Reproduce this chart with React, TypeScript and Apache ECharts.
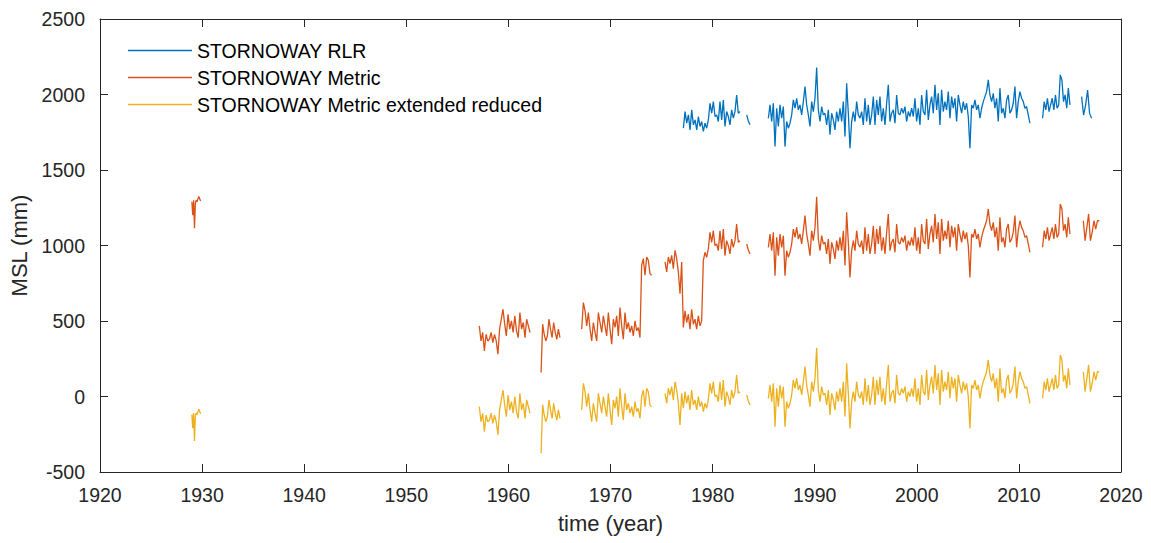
import React, { useEffect, useRef } from "react";
import * as echarts from "echarts";

// ---------- axis settings ----------
const X_MIN = 1920;
const X_MAX = 2020;
const X_STEP = 10;
const Y_MIN = -500;
const Y_MAX = 2500;
const Y_STEP = 500;

const SERIES_NAMES = [
  "STORNOWAY RLR",
  "STORNOWAY Metric",
  "STORNOWAY Metric extended reduced",
];
const SERIES_COLORS = ["#0072BD", "#D95319", "#EDB120"];

// ---------- STORNOWAY RLR (mm) ----------
const RLR_1977 = [1777, 1887, 1810, 1865, 1766, 1898, 1799, 1832, 1766, 1854, 1788, 1821, 1755, 1810, 1777, 1832, 1942, 1876, 1953, 1854, 1865, 1821, 1953, 1832, 1964, 1788, 1887, 1854, 1799, 1898, 1843, 1887, 1997, 1876, 1887];
const RLR_1983 = [1865, 1825, 1799];
const RLR_1985 = [
  1843, 1931, 1821, 1942, 1655, 1909, 1788, 1931, 1843, 1920,
  1655, 1821, 1777, 1810, 1865, 1964, 1909, 1975, 1898, 1931,
  1865, 1953, 2053, 1931, 1865, 1788, 1953, 1887, 1975, 2178,
  1898, 1821, 1920, 1865, 1876, 1799, 1898, 1733, 1876, 1832,
  1766, 1887, 1821, 1909, 1821, 1953, 1722, 2075, 1876, 1644,
  1821, 1887, 1821, 1953, 1865, 1843, 1887, 1799, 1975, 1821,
  1931, 1799, 1865, 1986, 1799, 1964, 1865, 1986, 1821, 1909,
  1799, 1942, 2064, 1821, 1876, 1898, 1810, 1997, 1876, 1865,
  1909, 1876, 1920, 1821, 1887, 1854, 1909, 1854, 1975, 1821,
  1909, 1799, 1997, 1887, 1865, 2031, 1832, 1931, 1986, 1876,
  2064, 1898, 2008, 1799, 2031, 1887, 1953, 1898, 2019, 1843,
  1986, 1909, 1975, 1821, 1997, 1931, 1876, 1953, 1898, 1942,
  1854, 1644, 1931, 1909, 1964, 1898, 1931, 1843, 1909, 1953,
  1986, 2019, 2097, 1997, 1953, 2008, 1909, 1975, 1821, 2042,
  1876, 1909, 1843, 1964, 1997, 1876, 1898, 1942, 2053, 1843,
  1953, 2019, 1975, 1953, 1909, 1920, 1865, 1810,
];
const RLR_2012 = [1843, 1953, 1898, 1975, 1887, 1931, 1975, 1898, 1997, 1909, 1931, 2130, 2097, 1953, 1997, 1909, 2042, 1931];
const RLR_2016 = [1986, 1864, 1930, 2030, 1875, 1842];

// ---------- STORNOWAY Metric (mm) ----------
const MET_1929 = [1290, 1200, 1300, 1115, 1280, 1300, 1290, 1310, 1325, 1310, 1295];
const MET_1957 = [468, 368, 424, 302, 412, 368, 379, 424, 357, 412, 368, 280, 446, 512, 578, 479, 401, 545, 446, 501, 424, 534, 435, 390, 556, 446, 490, 390, 512, 468, 424];
const MET_1963 = [159, 479, 412, 368, 401, 512, 446, 390, 490, 424, 379, 446, 390];
const MET_1967 = [446, 622, 567, 468, 556, 446, 368, 490, 424, 368, 556, 490, 424, 534, 468, 401, 556, 446, 346, 512, 457, 534, 401, 589, 468, 379, 556, 446, 490, 424, 468, 401, 501, 435, 457, 390, 869, 913, 803, 924, 902, 814, 803];
const MET_1975 = [891, 825, 924, 880, 935, 847, 968, 913, 825, 681, 891, 457, 567, 490, 545, 446, 578, 479, 512, 446, 534, 468, 501, 900, 955, 922, 977, 1087, 1021, 1098, 999, 1010, 966, 1098, 977, 1109, 933, 1032, 999, 944, 1043, 988, 1032, 1142, 1021, 1032];
const MET_1983 = [1010, 970, 944];
const MET_1985 = [
  988, 1076, 966, 1087, 800, 1054, 933, 1076, 988, 1065,
  800, 966, 922, 955, 1010, 1109, 1054, 1120, 1043, 1076,
  1010, 1098, 1198, 1076, 1010, 933, 1098, 1032, 1120, 1323,
  1043, 966, 1065, 1010, 1021, 944, 1043, 878, 1021, 977,
  911, 1032, 966, 1054, 966, 1098, 867, 1220, 1021, 789,
  966, 1032, 966, 1098, 1010, 988, 1032, 944, 1120, 966,
  1076, 944, 1010, 1131, 944, 1109, 1010, 1131, 966, 1054,
  944, 1087, 1209, 966, 1021, 1043, 955, 1142, 1021, 1010,
  1054, 1021, 1065, 966, 1032, 999, 1054, 999, 1120, 966,
  1054, 944, 1142, 1032, 1010, 1176, 977, 1076, 1131, 1021,
  1209, 1043, 1153, 944, 1176, 1032, 1098, 1043, 1164, 988,
  1131, 1054, 1120, 966, 1142, 1076, 1021, 1098, 1043, 1087,
  999, 789, 1076, 1054, 1109, 1043, 1076, 988, 1054, 1098,
  1131, 1164, 1242, 1142, 1098, 1153, 1054, 1120, 966, 1187,
  1021, 1054, 988, 1109, 1142, 1021, 1043, 1087, 1198, 988,
  1098, 1164, 1120, 1098, 1054, 1065, 1010, 955,
];
const MET_2012 = [988, 1098, 1043, 1120, 1032, 1076, 1120, 1043, 1142, 1054, 1076, 1275, 1242, 1098, 1142, 1054, 1187, 1076];
const MET_2016 = [1164, 1032, 1120, 1209, 1032, 1087, 1164, 1109, 1164, 1164];

// ---------- STORNOWAY Metric extended reduced (mm) ----------
const EXT_1929 = [-120, -210, -110, -295, -130, -110, -120, -100, -85, -100, -115];
const EXT_1957 = [-67, -167, -111, -233, -123, -167, -156, -111, -178, -123, -167, -255, -89, -23, 43, -56, -134, 10, -89, -34, -111, -1, -100, -145, 21, -89, -45, -145, -23, -67, -111];
const EXT_1963 = [-376, -56, -123, -167, -134, -23, -89, -145, -45, -111, -156, -89, -145];
const EXT_1967 = [-89, 87, 32, -67, 21, -89, -167, -45, -111, -167, 21, -45, -111, -1, -67, -134, 21, -89, -189, -23, -78, -1, -134, 54, -67, -156, 21, -89, -45, -111, -67, -134, -34, -100, -78, -145, -1, 43, -67, 54, 32, -56, -67];
const EXT_1975 = [21, -45, 54, 10, 65, -23, 98, 43, -45, -189, 21, -78, 32, -45, 10, -89, 43, -56, -23, -89, -1, -67, -34, -100, -45, -78, -23, 87, 21, 98, -1, 10, -34, 98, -23, 109, -67, 32, -1, -56, 43, -12, 32, 142, 21, 32];
const EXT_1983 = [10, -30, -56];
const EXT_1985 = [
  -12, 76, -34, 87, -200, 54, -67, 76, -12, 65,
  -200, -34, -78, -45, 10, 109, 54, 120, 43, 76,
  10, 98, 198, 76, 10, -67, 98, 32, 120, 323,
  43, -34, 65, 10, 21, -56, 43, -122, 21, -23,
  -89, 32, -34, 54, -34, 98, -133, 220, 21, -211,
  -34, 32, -34, 98, 10, -12, 32, -56, 120, -34,
  76, -56, 10, 131, -56, 109, 10, 131, -34, 54,
  -56, 87, 209, -34, 21, 43, -45, 142, 21, 10,
  54, 21, 65, -34, 32, -1, 54, -1, 120, -34,
  54, -56, 142, 32, 10, 176, -23, 76, 131, 21,
  209, 43, 153, -56, 176, 32, 98, 43, 164, -12,
  131, 54, 120, -34, 142, 76, 21, 98, 43, 87,
  -1, -211, 76, 54, 109, 43, 76, -12, 54, 98,
  131, 164, 242, 142, 98, 153, 54, 120, -34, 187,
  21, 54, -12, 109, 142, 21, 43, 87, 198, -12,
  98, 164, 120, 98, 54, 65, 10, -45,
];
const EXT_2012 = [-12, 98, 43, 120, 32, 76, 120, 43, 142, 54, 76, 275, 242, 98, 142, 54, 187, 76];
const EXT_2016 = [164, 32, 120, 209, 32, 87, 164, 109, 164, 164];

// Record pieces: [first year, last year, values]
type Piece = [number, number, number[]];

const RLR_PIECES: Piece[] = [
  [1977.14, 1982.68, RLR_1977],
  [1983.34, 1983.66, RLR_1983],
  [1985.46, 2011.08, RLR_1985],
  [2012.32, 2015.0, RLR_2012],
  [2016.14, 2017.12, RLR_2016],
];
const MET_PIECES: Piece[] = [
  [1929.0, 1929.85, MET_1929],
  [1957.15, 1962.12, MET_1957],
  [1963.2, 1965.05, MET_1963],
  [1967.18, 1974.03, MET_1967],
  [1975.34, 1982.68, MET_1975],
  [1983.34, 1983.66, MET_1983],
  [1985.46, 2011.08, MET_1985],
  [2012.32, 2015.0, MET_2012],
  [2016.31, 2017.87, MET_2016],
];
const EXT_PIECES: Piece[] = [
  [1929.0, 1929.85, EXT_1929],
  [1957.15, 1962.12, EXT_1957],
  [1963.2, 1965.05, EXT_1963],
  [1967.18, 1974.03, EXT_1967],
  [1975.34, 1982.68, EXT_1975],
  [1983.34, 1983.66, EXT_1983],
  [1985.46, 2011.08, EXT_1985],
  [2012.32, 2015.0, EXT_2012],
  [2016.31, 2017.87, EXT_2016],
];

function buildLine(pieces: Piece[]) {
  const out: any[] = [];
  pieces.forEach(([t0, t1, vals], k) => {
    if (k > 0) out.push([t0 - 0.01, "-"]);
    const n = vals.length;
    vals.forEach((v, i) => {
      const t = n > 1 ? t0 + (i * (t1 - t0)) / (n - 1) : t0;
      out.push([t, v]);
    });
  });
  return out;
}

const FONT = "'Liberation Sans', Arial, Helvetica, sans-serif";
const AXIS_COLOR = "#262626";
const plain = (v: number) => String(v);

export default function App() {
  const ref = useRef<HTMLDivElement>(null);

  useEffect(() => {
    if (!ref.current) return;
    const chart = echarts.init(ref.current, undefined, { renderer: "svg" });

    const axisCommon = {
      axisLine: { show: true, onZero: false, lineStyle: { color: AXIS_COLOR, width: 1 } },
      axisTick: { show: true, inside: true, length: 8, lineStyle: { color: AXIS_COLOR, width: 1 } },
      splitLine: { show: false },
    };

    const allPieces = [RLR_PIECES, MET_PIECES, EXT_PIECES];

    chart.setOption({
      animation: false,
      backgroundColor: "#ffffff",
      grid: { left: 100, right: 30, top: 19, bottom: 71, containLabel: false },
      legend: {
        show: true,
        orient: "vertical",
        left: 123,
        top: 35,
        icon: "rect",
        itemWidth: 64,
        itemHeight: 1.3,
        itemGap: 6,
        data: SERIES_NAMES,
        textStyle: { fontFamily: FONT, fontSize: 19.5, color: "#000000", lineHeight: 21 },
        selectedMode: false,
      },
      xAxis: [
        {
          type: "value",
          position: "bottom",
          min: X_MIN,
          max: X_MAX,
          interval: X_STEP,
          ...axisCommon,
          axisLabel: { show: true, color: AXIS_COLOR, fontFamily: FONT, fontSize: 19.5, margin: 13, showMinLabel: true, showMaxLabel: true, formatter: plain },
          name: "time (year)",
          nameLocation: "middle",
          nameGap: 40,
          nameTextStyle: { fontFamily: FONT, fontSize: 22, color: AXIS_COLOR },
        },
        {
          type: "value",
          position: "top",
          min: X_MIN,
          max: X_MAX,
          interval: X_STEP,
          ...axisCommon,
          axisLabel: { show: false },
        },
      ],
      yAxis: [
        {
          type: "value",
          position: "left",
          min: Y_MIN,
          max: Y_MAX,
          interval: Y_STEP,
          ...axisCommon,
          axisLabel: { show: true, color: AXIS_COLOR, fontFamily: FONT, fontSize: 19.5, margin: 15, showMinLabel: true, showMaxLabel: true, formatter: plain },
          name: "MSL (mm)",
          nameLocation: "middle",
          nameGap: 68,
          nameRotate: 90,
          nameTextStyle: { fontFamily: FONT, fontSize: 22, color: AXIS_COLOR },
        },
        {
          type: "value",
          position: "right",
          min: Y_MIN,
          max: Y_MAX,
          interval: Y_STEP,
          ...axisCommon,
          axisLabel: { show: false },
        },
      ],
      series: SERIES_NAMES.map((name, i) => ({
        type: "line",
        name,
        xAxisIndex: 0,
        yAxisIndex: 0,
        data: buildLine(allPieces[i]),
        showSymbol: false,
        symbol: "none",
        connectNulls: false,
        lineStyle: { color: SERIES_COLORS[i], width: 1.3 },
        itemStyle: { color: SERIES_COLORS[i] },
        emphasis: { disabled: true },
        z: 2 + i,
      })),
    });

    return () => chart.dispose();
  }, []);

  return (
    <div
      ref={ref}
      style={{ position: "fixed", left: 0, top: 0, width: 1151, height: 543, background: "#fff" }}
    />
  );
}
